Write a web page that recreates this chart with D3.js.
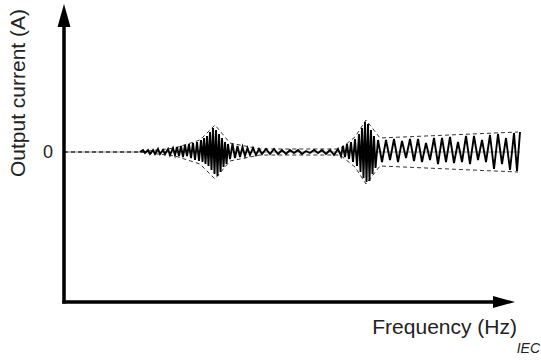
<!DOCTYPE html>
<html>
<head>
<meta charset="utf-8">
<script src="https://cdn.jsdelivr.net/npm/d3@7"></script>
<style>
  body { margin: 0; background: #fff; }
  svg { display: block; font-family: "Liberation Sans", Arial, sans-serif; }
  .label { fill: #222; }
</style>
</head>
<body>
<div id="chart"></div>
<script>
// waveform samples (frequency, output current)
var freq = [
  38, 39.5, 40.5, 42, 43, 44.5, 45.5, 47, 48, 49.5, 50.5, 52, 53, 54.5, 55.5,
  56.5, 57.5, 58.5, 59.5, 60.5, 61.5, 62.5, 63.5, 64.5, 65.5, 66.5, 67.5,
  68.5, 69.25, 70, 70.75, 71.5, 72.25, 73, 73.75, 74.5, 75.25, 76, 76.75, 77.5, 78.25, 79, 79.75, 80.5, 81.25,
  82, 83, 84.25, 85.5, 86.75, 88, 89.25, 90.5, 91.75, 93, 94.5, 96, 97.5,
  99, 101, 103, 105, 107, 109, 111, 113, 115, 117, 119, 121, 123, 125, 127, 129, 131, 133, 135, 137,
  138.5, 139.5, 140.5, 141.5, 142.5, 143.5, 144.5, 145.5, 146.5, 147.5,
  148.25, 149, 149.75, 150.5, 151.25, 152, 152.75, 153.5, 154.25, 155, 155.75,
  157, 159, 161, 163, 165, 167, 169, 171, 173, 175, 177, 179, 181, 183, 185, 187, 189, 191,
  193, 195, 197, 199, 201, 203, 205, 207, 209, 211, 213, 215, 217, 219, 221, 223, 225, 226.5, 228
];
var current = [
  0, 1, -0.5, 1, -1, 1, -1, 1.5, -1, 1, -1, 1.5, -1.5, 2, -1.5,
  2.5, -2, 3, -2.5, 3.5, -2, 4, -3, 4.5, -4, 5, -4.5,
  6, -5, 7, -6, 8, -7, 10, -9, 12, -11, 11, -12, 9, -10, 7, -7.5, 5, -6,
  4, -3.5, 4, -3, 3, -2.5, 2.5, -2, 2, -1.5, 2, -1.5, 1.5,
  -1, 1.5, -1, 1.5, -1, 1, -1, 1, -0.5, 1, -1, 0.5, -0.5, 1, -0.5, 1, -1, 1, -1.5, 1.5,
  -2, 3, -2.5, 4, -3.5, 5, -5, 6.5, -7, 9,
  -10, 12, -13, 15, -15, 14, -14.5, 11, -11, 8, -8,
  6, -5, 6, -4, 6.5, -5, 5.5, -3, 6.5, -4.5, 6.5, -5, 4.5, -4, 7, -6, 7, -5,
  7.5, -5.5, 5, -5, 8, -6, 8, -4, 6, -5, 8.5, -8.5, 9, -6, 7, -9, 9.5, -9.5, 10
];

// dashed envelope (half amplitude)
var envFreq = [0, 38, 55.5, 68, 75.5, 83, 98, 138, 145.5, 151, 158, 227];
var envAmp = [0, 0, 2, 6, 13.5, 4.5, 1.5, 1.5, 7.5, 16, 7, 10];

var tickValues = [0];
var labels = { x: "Frequency (Hz)", y: "Output current (A)", source: "IEC" };

var width = 541, height = 362;

var svg = d3.select("#chart").append("svg")
  .attr("width", width)
  .attr("height", height);

var x = d3.scaleLinear().domain([0, 228]).range([64, 520]);
var y = d3.scaleLinear().domain([-75, 75]).range([302, 2]);

var wave = freq.map(function(f, i){ return [f, current[i]]; });
var upper = envFreq.map(function(f, i){ return [f, envAmp[i]]; });
var lower = envFreq.map(function(f, i){ return [f, -envAmp[i]]; });

var line = d3.line()
  .x(function(d){ return x(d[0]); })
  .y(function(d){ return y(d[1]); });

// zero line
svg.append("line")
  .attr("x1", x(0)).attr("x2", x(228))
  .attr("y1", y(0)).attr("y2", y(0))
  .attr("stroke", "#888")
  .attr("stroke-width", 1);

// envelope
[upper, lower].forEach(function(env){
  svg.append("path")
    .datum(env)
    .attr("d", line)
    .attr("fill", "none")
    .attr("stroke", "#333")
    .attr("stroke-width", 1)
    .attr("stroke-dasharray", "4,3");
});

// waveform
svg.append("path")
  .datum(wave)
  .attr("d", line)
  .attr("fill", "none")
  .attr("stroke", "#000")
  .attr("stroke-width", 1.9)
  .attr("stroke-linejoin", "miter");

// axes with arrow heads
var x0 = x(0), y0 = y(-75);
var yTip = y(74), xTip = x(225.5);

svg.append("line")
  .attr("x1", x0).attr("y1", y0 + 1.5)
  .attr("x2", x0).attr("y2", yTip + 18)
  .attr("stroke", "#000").attr("stroke-width", 3.5);
svg.append("path")
  .attr("d", "M" + x0 + "," + yTip + "L" + (x0 - 6.5) + "," + (yTip + 23) + "L" + (x0 + 6.5) + "," + (yTip + 23) + "Z")
  .attr("fill", "#000");

svg.append("line")
  .attr("x1", x0 - 1.75).attr("y1", y0)
  .attr("x2", xTip - 18).attr("y2", y0)
  .attr("stroke", "#000").attr("stroke-width", 3.5);
svg.append("path")
  .attr("d", "M" + xTip + "," + y0 + "L" + (xTip - 22) + "," + (y0 - 6) + "L" + (xTip - 22) + "," + (y0 + 6) + "Z")
  .attr("fill", "#000");

// "0" tick label
var yAxis = svg.append("g")
  .attr("transform", "translate(" + x0 + ",0)")
  .call(d3.axisLeft(y).tickValues(tickValues).tickSize(0).tickPadding(11));
yAxis.select(".domain").remove();
yAxis.selectAll("text")
  .attr("font-size", 18)
  .attr("font-family", "Liberation Sans, Arial, sans-serif")
  .attr("fill", "#222");

// labels
svg.append("text")
  .attr("class", "label")
  .attr("text-anchor", "end")
  .attr("x", 517)
  .attr("y", 334)
  .attr("font-size", 21)
  .text(labels.x);

svg.append("text")
  .attr("class", "label")
  .attr("text-anchor", "middle")
  .attr("transform", "translate(25,93)rotate(-90)")
  .attr("font-size", 21)
  .text(labels.y);

svg.append("text")
  .attr("class", "label")
  .attr("text-anchor", "end")
  .attr("x", 540)
  .attr("y", 353)
  .attr("font-size", 14)
  .attr("font-style", "italic")
  .text(labels.source);
</script>
</body>
</html>
